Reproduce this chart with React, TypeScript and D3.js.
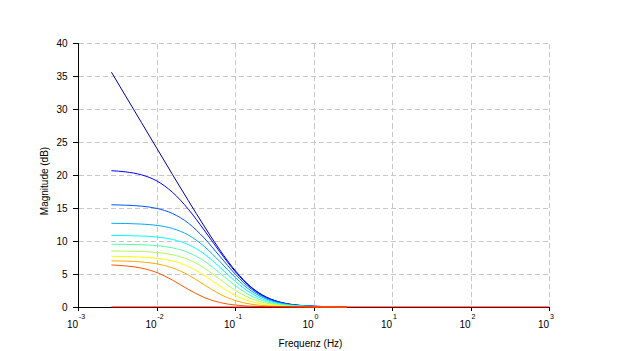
import React from "react";
import * as d3 from "d3";

// sample frequencies (Hz) shared by the family of curves
const freqHz = [0.00263, 0.00398, 0.00631, 0.01, 0.0158, 0.0251, 0.0398, 0.0631, 0.1, 0.158, 0.251, 0.398, 0.631, 1, 1.58, 2.63];

// magnitude (dB) of each curve
const magA00 = [35.64, 32.04, 28.04, 24.05, 20.08, 16.14, 12.3, 8.67, 5.48, 3.03, 1.47, 0.64, 0.27, 0.11, 0.04, 0.02];
const magA01 = [20.69, 20.51, 20.07, 19.12, 17.4, 14.84, 11.69, 8.38, 5.33, 2.95, 1.43, 0.63, 0.26, 0.11, 0.04, 0.02];
const magA02 = [15.52, 15.46, 15.31, 14.96, 14.19, 12.73, 10.48, 7.71, 4.96, 2.74, 1.32, 0.58, 0.24, 0.1, 0.04, 0.01];
const magA03 = [12.71, 12.68, 12.59, 12.39, 11.91, 10.92, 9.22, 6.9, 4.45, 2.45, 1.17, 0.51, 0.21, 0.09, 0.03, 0.01];
const magA04 = [10.86, 10.84, 10.77, 10.62, 10.25, 9.47, 8.06, 6.04, 3.86, 2.09, 0.98, 0.42, 0.17, 0.07, 0.03, 0.01];
const magA05 = [9.53, 9.5, 9.45, 9.31, 8.98, 8.27, 6.99, 5.15, 3.21, 1.69, 0.78, 0.33, 0.14, 0.05, 0.02, 0.01];
const magA06 = [8.5, 8.48, 8.42, 8.27, 7.93, 7.22, 5.94, 4.21, 2.5, 1.26, 0.56, 0.24, 0.1, 0.04, 0.02, 0.01];
const magA07 = [7.69, 7.66, 7.58, 7.4, 6.99, 6.16, 4.81, 3.17, 1.74, 0.82, 0.36, 0.15, 0.06, 0.02, 0.01, 0.0];
const magA08 = [7.01, 6.96, 6.84, 6.55, 5.94, 4.86, 3.38, 1.96, 0.96, 0.42, 0.18, 0.07, 0.03, 0.01, 0.0, 0.0];
const magA09 = [6.38, 6.24, 5.91, 5.22, 4.07, 2.67, 1.45, 0.68, 0.29, 0.12, 0.05, 0.02, 0.01, 0.0, 0.0, 0.0];

// flat red curve at 0 dB
const redFreq = [0.00263, 1000];
const redMag = [0, 0];

const curveColors = ["#0000aa", "#0000ff", "#0055ff", "#00aaff", "#00ffff", "#55ffaa", "#aaff55", "#ffff00", "#ffaa00", "#ff5500"];

const yTicks = [0, 5, 10, 15, 20, 25, 30, 35, 40];
const xTickExp = [-3, -2, -1, 0, 1, 2, 3];

export default function App() {
  const width = 628;
  const height = 351;
  const font = "'Liberation Sans', Arial, Helvetica, sans-serif";

  const x = d3.scaleLog().domain([1e-3, 1e3]).range([78.5, 549.5]);
  const y = d3.scaleLinear().domain([0, 40]).range([307, 43.5]);

  const series = [magA00, magA01, magA02, magA03, magA04, magA05, magA06, magA07, magA08, magA09];

  const line = d3
    .line<[number, number]>()
    .x((d) => x(d[0]))
    .y((d) => y(d[1]))
    .curve(d3.curveMonotoneX);

  const [x0, x1] = x.range();
  const [y0, y1] = y.range();

  return (
    <svg
      width={width}
      height={height}
      viewBox={`0 0 ${width} ${height}`}
      style={{ position: "absolute", left: 0, top: 0, background: "#fff" }}
    >
      <rect x={0} y={0} width={width} height={height} fill="#fff" />

      {/* grid */}
      <g stroke="#c8c8c8" strokeWidth={1} strokeDasharray="5 3" shapeRendering="crispEdges">
        {yTicks.filter((t) => t > 0).map((t) => (
          <line key={"gy" + t} x1={x0} x2={x1} y1={y(t)} y2={y(t)} />
        ))}
        {xTickExp.filter((e) => e > -3).map((e) => (
          <line key={"gx" + e} x1={x(Math.pow(10, e))} x2={x(Math.pow(10, e))} y1={y1} y2={y0} />
        ))}
      </g>

      {/* axes */}
      <g stroke="#000" strokeWidth={1} shapeRendering="crispEdges">
        <line x1={x0} x2={x0} y1={y1} y2={y0} />
        <line x1={x0} x2={x1} y1={y0} y2={y0} />
        {yTicks.map((t) => (
          <line key={"ty" + t} x1={x0 - 6} x2={x0} y1={y(t)} y2={y(t)} />
        ))}
        {xTickExp.map((e) => (
          <line key={"tx" + e} x1={x(Math.pow(10, e))} x2={x(Math.pow(10, e))} y1={y0} y2={y0 + 4} />
        ))}
      </g>

      {/* curves */}
      <g fill="none" strokeWidth={1}>
        {series.map((s, i) => (
          <path
            key={"c" + i}
            d={line(freqHz.map((f, j) => [f, s[j]] as [number, number])) || ""}
            stroke={curveColors[i]}
          />
        ))}
        <path
          d={line(redFreq.map((f, j) => [f, redMag[j]] as [number, number])) || ""}
          stroke="#ff0000"
        />
      </g>

      {/* tick labels */}
      <g fontFamily={font} fontSize={10} fill="#000">
        {yTicks.map((t) => (
          <text key={"ly" + t} x={67.5} y={y(t)} dy="0.35em" textAnchor="end">
            {t}
          </text>
        ))}
        {xTickExp.map((e) => (
          <g key={"lx" + e}>
            <text x={x(Math.pow(10, e)) - 0.5} y={328} textAnchor="end">
              10
            </text>
            <text x={x(Math.pow(10, e)) + 0.5} y={318.5} fontSize={7} textAnchor="start">
              {String(e)}
            </text>
          </g>
        ))}
        <text x={310.5} y={347} textAnchor="middle">
          Frequenz (Hz)
        </text>
        <text transform="translate(47.5,181) rotate(-90)" textAnchor="middle">
          Magnitude (dB)
        </text>
      </g>
    </svg>
  );
}
